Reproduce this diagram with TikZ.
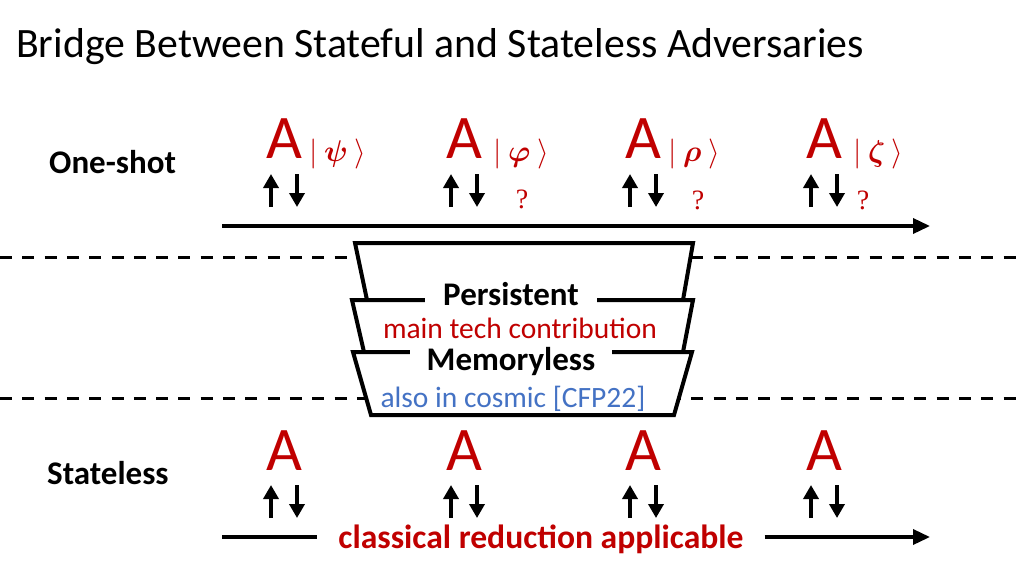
\RequirePackage{fix-cm}
\documentclass[tikz,border=0pt]{standalone}
\usepackage{amsmath,bm}
\usepackage{fontspec}
\setmainfont{Carlito}
\newfontfamily\serifq{Liberation Serif}
\usetikzlibrary{arrows.meta}
\definecolor{dred}{HTML}{C00000}
\definecolor{dblue}{HTML}{4472C4}
\begin{document}
\begin{tikzpicture}[x=1pt,y=-1pt,
  titlestyle/.style={font=\fontsize{41.8}{44}\selectfont, anchor=base west, inner sep=0},
  lbl/.style={font=\fontsize{33}{36}\selectfont\bfseries, inner sep=0},
  note/.style={font=\fontsize{29.5}{32}\selectfont, inner sep=0, anchor=base},
  adv/.style={font=\fontsize{62}{64}\selectfont, text=dred, anchor=base, inner sep=0},
  substyle/.style={font=\fontsize{30}{32}\selectfont, text=dred, anchor=base west, inner sep=0},
  qm/.style={font=\fontsize{28}{30}\selectfont\serifq, text=dred, inner sep=0},
  bridge/.style={draw, line width=4pt, fill=white, line join=miter},
  dashline/.style={line width=3pt, dash pattern=on 12pt off 10.3pt},
  arr/.style={line width=3.5pt, -{Triangle[length=14pt,width=15pt]}},
  axis/.style={line width=3.5pt, -{Triangle[length=17pt,width=15pt]}}
]
\useasboundingbox (0,0) rectangle (1024,576);

% title
\node[titlestyle] (title) at (16,57) {Bridge Between Stateful and Stateless Adversaries};

% row labels
\node[lbl, anchor=base west] (oneshot) at (49,173) {One-shot};
\node[lbl, anchor=base west] (stateless) at (47,484) {Stateless};

% dashed separators
\coordinate (d1a) at (0,257); \coordinate (d1b) at (1024,257);
\coordinate (d2a) at (0,398); \coordinate (d2b) at (1024,398);
\draw[dashline] (d1a) -- (d1b);
\draw[dashline] (d2a) -- (d2b);

% time axis (one-shot)
\coordinate (ta) at (222,226); \coordinate (tb) at (930,226);
\draw[axis] (ta) -- (tb);

% bridge
\draw[bridge] (355,243) -- (693,243) -- (683,300) -- (367,300) -- cycle;
\draw[bridge] (352,300) -- (693,300) -- (683,352) -- (364,352) -- cycle;
\draw[bridge] (353,352) -- (692,352) -- (674,415) -- (371,415) -- cycle;

\node[lbl, anchor=base, fill=white, inner xsep=18pt, inner ysep=3pt] (persistent) at (511,305) {Persistent};
\node[note, text=dred] (maintech) at (520,338) {main tech contribution};
\node[lbl, anchor=base, fill=white, inner xsep=17pt, inner ysep=3pt] (memoryless) at (511,370) {Memoryless};
\node[note, text=dblue] (cosmic) at (513,407) {also in cosmic [CFP22]};

% adversaries
\foreach \i/\x/\s/\o in {1/284/\psi/25, 2/464/\varphi/29, 3/643/\rho/25, 4/824/\zeta/29}{
  \node[adv] (at\i) at (\x,158) {A};
  \node[substyle] (st\i) at (\x+\o,161) {$|\:\boldsymbol{\s}\:\rangle$};
  \coordinate (tua\i) at (\x-13,207); \coordinate (tub\i) at (\x-13,174);
  \coordinate (tda\i) at (\x+13,174); \coordinate (tdb\i) at (\x+13,207);
  \draw[arr] (tua\i) -- (tub\i);
  \draw[arr] (tda\i) -- (tdb\i);
  \node[adv] (ab\i) at (\x,470) {A};
  \coordinate (bua\i) at (\x-13,518); \coordinate (bub\i) at (\x-13,485);
  \coordinate (bda\i) at (\x+13,485); \coordinate (bdb\i) at (\x+13,518);
  \draw[arr] (bua\i) -- (bub\i);
  \draw[arr] (bda\i) -- (bdb\i);
}

\node[qm] (q2) at (522,199) {?};
\node[qm] (q3) at (698,200) {?};
\node[qm] (q4) at (863,200) {?};

% stateless axis
\node[lbl, font=\fontsize{33.6}{36}\selectfont\bfseries, text=dred, anchor=base, inner xsep=21pt] (classical) at (541,548) {classical reduction applicable};
\coordinate (sa) at (222,537); \coordinate (sb) at (930,537);
\draw[line width=3.5pt] (sa) -- (sa -| classical.west);
\draw[axis] (sb -| classical.east) -- (sb);
\end{tikzpicture}
\end{document}
